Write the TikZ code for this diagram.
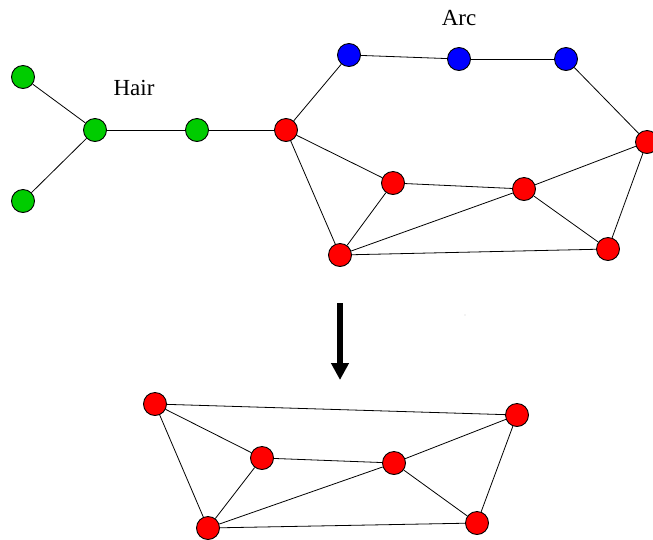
\documentclass[tikz,border=0pt]{standalone}
\usepackage{fontspec}
\setmainfont{Liberation Serif}
\usetikzlibrary{arrows.meta}
\definecolor{ggreen}{RGB}{0,204,0}
\begin{document}
\begin{tikzpicture}[x=1pt,y=-1pt,
  vtx/.style={circle,draw=black,line width=0.9pt,minimum size=23pt,inner sep=0pt},
  gv/.style={vtx,fill=ggreen},
  rv/.style={vtx,fill=red},
  bv/.style={vtx,fill=blue},
  edge/.style={line width=0.8pt,black},
  lbl/.style={font=\fontsize{23}{27}\selectfont,inner sep=0pt,anchor=base}]
\useasboundingbox (0,0) rectangle (653,539);
% green hair
\node[gv] (g1) at (23,77) {};
\node[gv] (g2) at (23,201) {};
\node[gv] (g3) at (95,130) {};
\node[gv] (g4) at (197,130) {};
% top red
\node[rv] (r1) at (286,130) {};
\node[rv] (r2) at (393,183) {};
\node[rv] (r3) at (524,189) {};
\node[rv] (r4) at (647,142) {};
\node[rv] (r5) at (340,255) {};
\node[rv] (r6) at (608,249) {};
% blue arc
\node[bv] (b1) at (349,55) {};
\node[bv] (b2) at (459,59) {};
\node[bv] (b3) at (566,59) {};
% labels
\node[lbl] (hair) at (134,95) {Hair};
\node[lbl] (arc) at (459,25) {Arc};
% edges top
\draw[edge] (g1) -- (g3);
\draw[edge] (g2) -- (g3);
\draw[edge] (g3) -- (g4);
\draw[edge] (g4) -- (r1);
\draw[edge] (r1) -- (b1);
\draw[edge] (b1) -- (b2);
\draw[edge] (b2) -- (b3);
\draw[edge] (b3) -- (r4);
\draw[edge] (r1) -- (r2);
\draw[edge] (r1) -- (r5);
\draw[edge] (r2) -- (r5);
\draw[edge] (r2) -- (r3);
\draw[edge] (r5) -- (r3);
\draw[edge] (r5) -- (r6);
\draw[edge] (r3) -- (r4);
\draw[edge] (r3) -- (r6);
\draw[edge] (r6) -- (r4);
% arrow
\coordinate (a1) at (340,303);
\coordinate (a2) at (340,380);
\draw[line width=6pt,-{Triangle[length=17pt,width=17pt]}] (a1) -- (a2);
\fill[gray!40] (465,315) circle (0.6pt);
% bottom
\node[rv] (s1) at (155,404) {};
\node[rv] (s2) at (517,415) {};
\node[rv] (s3) at (262,458) {};
\node[rv] (s4) at (394,463) {};
\node[rv] (s5) at (208,528) {};
\node[rv] (s6) at (477,523) {};
\draw[edge] (s1) -- (s2);
\draw[edge] (s1) -- (s3);
\draw[edge] (s1) -- (s5);
\draw[edge] (s3) -- (s5);
\draw[edge] (s3) -- (s4);
\draw[edge] (s4) -- (s2);
\draw[edge] (s5) -- (s4);
\draw[edge] (s5) -- (s6);
\draw[edge] (s4) -- (s6);
\draw[edge] (s6) -- (s2);
\end{tikzpicture}
\end{document}
